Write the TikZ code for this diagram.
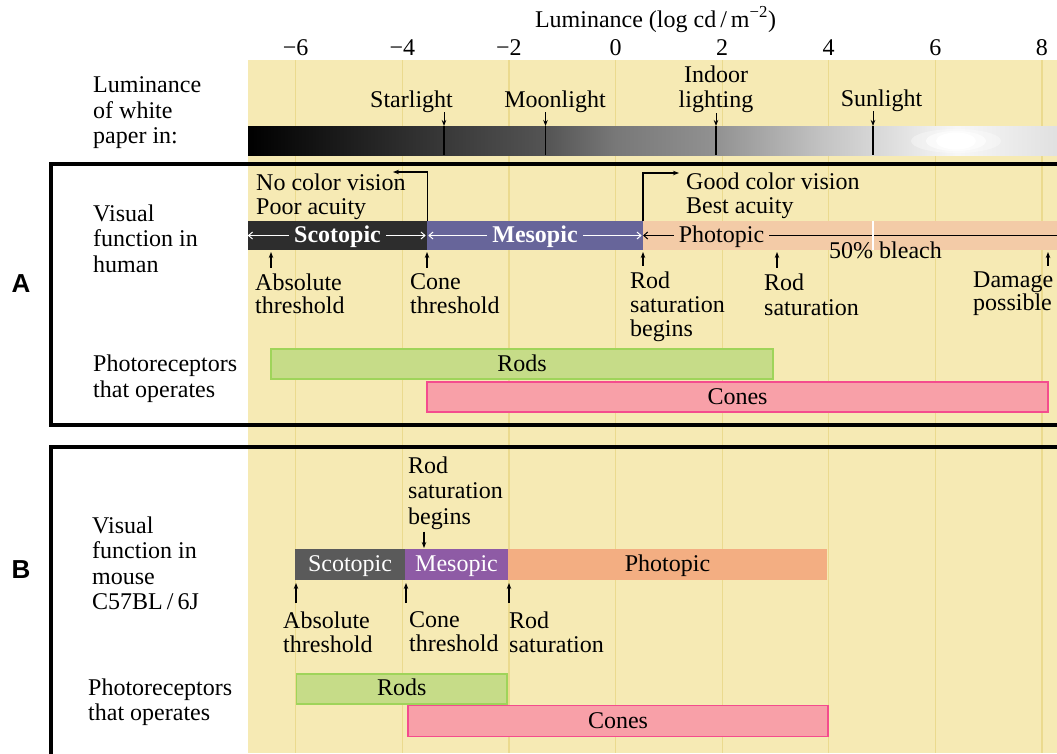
\documentclass[tikz,border=0pt]{standalone}
\usepackage{fontspec}
\setmainfont{Liberation Serif}
\setsansfont{Liberation Sans}
\usetikzlibrary{arrows.meta,positioning,calc}
\definecolor{paperbg}{HTML}{F6EAB4}
\definecolor{gridln}{HTML}{EBDA8E}
\definecolor{scoH}{HTML}{2D2D2D}
\definecolor{mesH}{HTML}{67659A}
\definecolor{phoH}{HTML}{F3CBA7}
\definecolor{scoM}{HTML}{5A5A5A}
\definecolor{mesM}{HTML}{8E5BA5}
\definecolor{phoM}{HTML}{F3AE82}
\definecolor{rodf}{HTML}{C6DC88}
\definecolor{rodd}{HTML}{9FD45A}
\definecolor{conef}{HTML}{F8A0A8}
\definecolor{coned}{HTML}{F44C8E}
\pgfdeclarehorizontalshading{paperlum}{100bp}{color(0bp)=(black); color(25bp)=(black); color(37bp)=(black!78); color(43.4bp)=(black!67); color(47.7bp)=(black!53); color(53.9bp)=(black!43); color(60.7bp)=(black!23); color(63.6bp)=(black!16); color(68.8bp)=(black!3); color(75bp)=(black!12); color(100bp)=(black!12)}

\begin{document}
\begin{tikzpicture}[x=1pt, y=-1pt,
      txt/.style={inner sep=0pt, anchor=north west, align=left, font=\fontsize{24}{25.5}\selectfont},
      cen/.style={inner sep=0pt, anchor=base, font=\fontsize{24}{25.5}\selectfont},
      seg/.style={inner sep=0pt, minimum height=29pt, text height=18pt, text depth=4pt, font=\fontsize{24}{25.5}\selectfont},
      recep/.style={draw, line width=1.5pt, inner sep=0pt, minimum height=30pt, text height=18pt, text depth=4pt, font=\fontsize{24}{25.5}\selectfont},
      arr/.style={-{Stealth[length=6pt,width=4.5pt]}, line width=1.1pt},
      barb/.style={-{Straight Barb[length=4pt,width=7pt]}, line width=1pt},
      frame/.style={line width=3.5pt},
      panel/.style={font=\sffamily\bfseries\fontsize{26}{26}\selectfont}]
    \useasboundingbox (0,0) rectangle (1057,753);
    \clip (0,0) rectangle (1057,753);
    \fill[white] (0,0) rectangle (1057,753);
    \fill[paperbg] (248,60) rectangle (1057,753);
    \foreach \v in {-6,-4,...,8} {
      \pgfmathsetmacro\gx{615.5+53.3*\v}
      \draw[gridln, line width=1.2pt] (\gx,60) -- (\gx,753);
      \node[cen] (tick\v) at (\gx,55) {\ifnum\v<0 −\the\numexpr-\v\relax\else\v\fi};
    }
    \node[cen] (lumT) at (655.5,27) {Luminance (log cd\,/\,m\textsuperscript{−2})};

    \shade[shading=paperlum] (248,126) rectangle (1057,155);
    \fill[white, opacity=0.35] (956,141) ellipse [x radius=45, y radius=12];
    \fill[white, opacity=0.6] (956,141) ellipse [x radius=30, y radius=10];
    \fill[white] (956,141) ellipse [x radius=20, y radius=8.5];

    \node[txt] (paper) at (93,76.5) {Luminance\\of white\\paper in:};
    \node[cen] (star) at (411.5,107) {Starlight};
    \node[cen] (moon) at (555,107) {Moonlight};
    \node[txt, anchor=north, align=center] (indoor) at (716,65.5) {Indoor\\lighting};
    \node[cen] (sun) at (881.5,106) {Sunlight};
    \foreach \n/\x in {star/444, moon/545.5, indoor/716, sun/873} {
      \coordinate (\n-top) at (\x,126);
      \coordinate (\n-bot) at (\x,155);
      \draw[arr, line width=0.9pt] (\n.south -| \n-top) -- (\n-top);
      \draw[line width=1.3pt] (\n-top) -- (\n-bot);
    }

    \draw[frame] (51,164) rectangle (1075,425);
    \draw[frame] (51,447) rectangle (1075,770);
    \node[panel] (pA) at (21,284) {A};
    \node[panel] (pB) at (21,570) {B};

    \node[txt] (visA) at (93,204.5) {Visual\\function in\\human};
    \node[txt] (photA) at (93,355) {Photoreceptors\\that operates};
    \node[txt] (visB) at (92,516.5) {Visual\\function in\\mouse\\C57BL\,/\,6J};
    \node[txt] (photB) at (88,678.5) {Photoreceptors\\that operates};

    \node[seg, fill=scoH, minimum width=179pt] (scoA) at (337.5,235.5) {};
    \node[seg, fill=mesH, minimum width=216pt] (mesA) at (535,235.5) {};
    \node[seg, fill=phoH, minimum width=430pt, anchor=west] (phoA) at (643,235.5) {};
    \node[cen, font=\bfseries\fontsize{24}{25.5}\selectfont, text=white, inner xsep=5pt] (scoAt) at (337.5,242.5) {Scotopic};
    \node[cen, font=\bfseries\fontsize{24}{25.5}\selectfont, text=white, inner xsep=5pt] (mesAt) at (535,242.5) {Mesopic};
    \node[cen, inner xsep=5pt] (phoAt) at (721.5,242.5) {Photopic};
    \draw[barb, white] (scoAt.west |- scoA.center) -- (scoA.west);
    \draw[barb, white, shorten >=1.5pt] (scoAt.east |- scoA.center) -- (scoA.east);
    \draw[barb, white, shorten >=1.5pt] (mesAt.west |- mesA.center) -- (mesA.west);
    \draw[barb, white, shorten >=1.5pt] (mesAt.east |- mesA.center) -- (mesA.east);
    \draw[barb] (phoAt.west |- phoA.center) -- (phoA.west);
    \draw[line width=1pt] (phoAt.east |- phoA.center) -- (phoA.east);
    \coordinate (bleach) at (873,235.5);
    \draw[white, line width=2pt] (bleach |- phoA.north) -- (bleach |- phoA.south);
    \node[cen] (bleachT) at (885.5,258) {50\% bleach};

    \node[txt, font=\fontsize{24}{23.5}\selectfont] (ncv) at (256,174) {No color vision\\Poor acuity};
    \node[txt, font=\fontsize{24}{23.5}\selectfont] (gcv) at (686,173) {Good color vision\\Best acuity};
    \coordinate (ncv-tip) at (393,172);
    \coordinate (gcv-tip) at (679,173);
    \draw[arr] (scoA.north east) |- (ncv-tip);
    \draw[arr] (phoA.north west) |- (gcv-tip);

    \node[txt, font=\fontsize{24}{23.5}\selectfont] (absA) at (255,273.5) {Absolute\\threshold};
    \node[txt, font=\fontsize{24}{23.5}\selectfont] (coneA) at (410,273.5) {Cone\\threshold};
    \node[txt, font=\fontsize{24}{24}\selectfont] (rsbA) at (630,271.5) {Rod\\saturation\\begins};
    \node[txt] (rsA) at (764,273.5) {Rod\\saturation};
    \node[txt, font=\fontsize{24}{23}\selectfont] (dmgA) at (973,271.5) {Damage\\possible};
    \foreach \n/\x in {absA/271, coneA/427, rsbA/643, rsA/777, dmgA/1048} {
      \coordinate (\n-tip) at (\x,252);
      \draw[arr] ([yshift=6pt]\n.north -| \n-tip) -- (\n-tip);
    }

    \node[recep, fill=rodf, draw=rodd, minimum width=502pt] (rodsA) at (522,364) {Rods};
    \node[recep, fill=conef, draw=coned, minimum width=621pt] (conesA) at (737.5,397) {Cones};

    \node[seg, fill=scoM, minimum width=110pt, minimum height=31pt, text=white] (scoB) at (350,564.5) {Scotopic};
    \node[seg, fill=mesM, minimum width=103pt, minimum height=31pt, text=white] (mesB) at (456.5,564.5) {Mesopic};
    \node[seg, fill=phoM, minimum width=319pt, minimum height=31pt] (phoB) at (667.5,564.5) {Photopic};

    \node[txt] (rsbB) at (408,456.5) {Rod\\saturation\\begins};
    \coordinate (rsbB-tip) at (424,548);
    \draw[arr] ([yshift=-2pt]rsbB.south -| rsbB-tip) -- (rsbB-tip);

    \node[txt, font=\fontsize{24}{24}\selectfont] (absB) at (283,611.5) {Absolute\\threshold};
    \node[txt, font=\fontsize{24}{24}\selectfont] (coneB) at (409,611.5) {Cone\\threshold};
    \node[txt, font=\fontsize{24}{24}\selectfont] (rsB) at (509,611.5) {Rod\\saturation};
    \foreach \n/\x in {absB/296, coneB/406, rsB/509} {
      \coordinate (\n-tip) at (\x,583);
      \draw[arr] ([yshift=8.5pt]\n.north -| \n-tip) -- (\n-tip);
    }

    \node[recep, fill=rodf, draw=rodd, minimum width=210.5pt] (rodsB) at (401.75,688.75) {Rods};
    \node[recep, fill=conef, draw=coned, minimum width=420pt, minimum height=31pt] (conesB) at (618,721) {Cones};
  \end{tikzpicture}
\end{document}
